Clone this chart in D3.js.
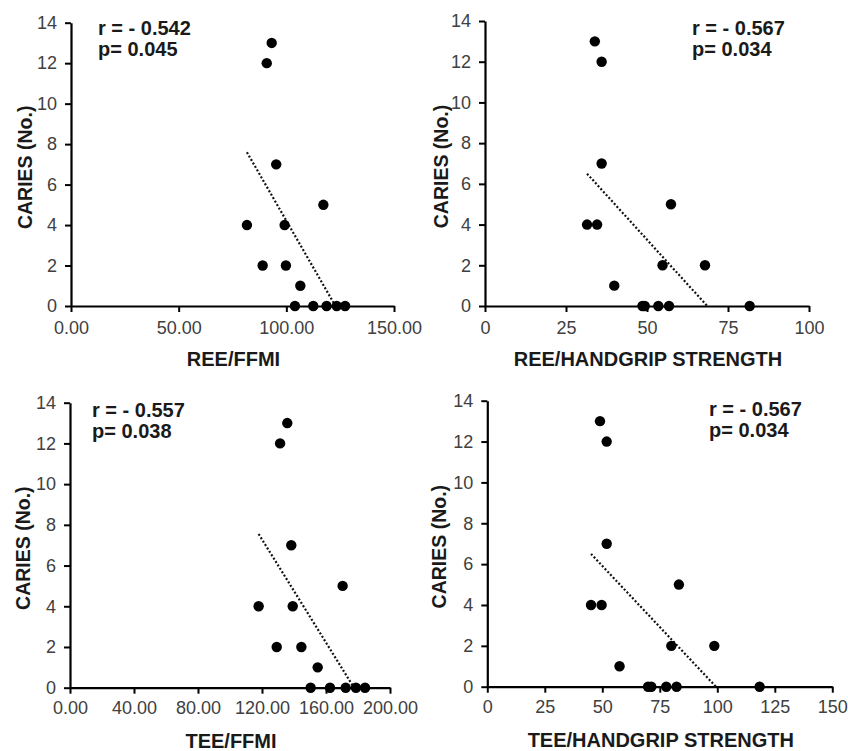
<!DOCTYPE html>
<html>
<head>
<meta charset="utf-8">
<script src="https://cdn.jsdelivr.net/npm/d3@7"></script>
<style>
  body { margin: 0; background: #fff; }
  svg { display: block; font-family: "Liberation Sans", Arial, sans-serif; }
  .tick text { fill: #404040; font-size: 18px; }
  .domain { stroke: #000; stroke-width: 2.2; }
  .tick line { stroke: #000; stroke-width: 2; }
</style>
</head>
<body>
<svg></svg>
<script>
// caries count per subject, same order in every panel
const caries = [13, 12, 7, 5, 4, 4, 2, 2, 1, 0, 0, 0, 0, 0];

const reeFfmi     = [93.2, 90.9, 95.3, 117.2, 81.7, 99.2, 89.0, 99.8, 106.5, 104.0, 112.5, 118.7, 123.4, 127.3];
const reeHandgrip = [33.9, 36.0, 36.0, 57.4, 31.5, 34.6, 54.8, 67.9, 39.9, 48.6, 49.3, 53.5, 56.8, 81.7];
const teeFfmi     = [135.8, 131.3, 138.3, 170.4, 117.9, 139.2, 129.2, 144.6, 154.8, 150.4, 162.5, 172.3, 178.7, 184.4];
const teeHandgrip = [49.0, 51.9, 51.9, 83.3, 45.1, 49.7, 80.0, 98.7, 57.5, 69.9, 71.3, 77.8, 82.3, 118.4];

// trend line end points [x, y]
const trendReeFfmi     = [[81.7, 7.6], [122.8, 0]];
const trendReeHandgrip = [[31.5, 6.5], [68.6, 0]];
const trendTeeFfmi     = [[117.9, 7.55], [177.5, 0]];
const trendTeeHandgrip = [[45.1, 6.5], [99.4, 0]];

const yTicks = [0, 2, 4, 6, 8, 10, 12, 14];
const xTicksReeFfmi = [0, 50, 100, 150];
const xTicksReeHandgrip = [0, 25, 50, 75, 100];
const xTicksTeeFfmi = [0, 40, 80, 120, 160, 200];
const xTicksTeeHandgrip = [0, 25, 50, 75, 100, 125, 150];

const xTitles = ['REE/FFMI', 'REE/HANDGRIP STRENGTH', 'TEE/FFMI', 'TEE/HANDGRIP STRENGTH'];
const stats = [['r = - 0.542', 'p= 0.045'], ['r = - 0.567', 'p= 0.034'],
               ['r = - 0.557', 'p= 0.038'], ['r = - 0.567', 'p= 0.034']];

let width = 848, height = 751;

let svg = d3.select('svg')
            .attr('width', width)
            .attr('height', height);

svg.append('rect')
   .attr('width', width)
   .attr('height', height)
   .attr('fill', '#fff');

// pixel frame of each plot area
let panels = [
  {xs: reeFfmi, trend: trendReeFfmi, ticks: xTicksReeFfmi, fmt: d3.format('.2f'), pad: 9,
   left: 71, right: 394, top: 22.7, bottom: 306, titleX: 32, statX: 98, statY: 35},
  {xs: reeHandgrip, trend: trendReeHandgrip, ticks: xTicksReeHandgrip, fmt: d3.format('d'), pad: 9,
   left: 485, right: 809, top: 21, bottom: 306, titleX: 448, statX: 692, statY: 35},
  {xs: teeFfmi, trend: trendTeeFfmi, ticks: xTicksTeeFfmi, fmt: d3.format('.2f'), pad: 8,
   left: 70, right: 390, top: 402.7, bottom: 687.7, titleX: 30, statX: 92, statY: 417},
  {xs: teeHandgrip, trend: trendTeeHandgrip, ticks: xTicksTeeHandgrip, fmt: d3.format('d'), pad: 8,
   left: 487.3, right: 832.3, top: 400.7, bottom: 686.7, titleX: 446, statX: 709, statY: 416}
];

panels.forEach((p, i) => {
  let x = d3.scaleLinear()
            .domain(d3.extent(p.ticks))
            .range([p.left, p.right]);
  let y = d3.scaleLinear()
            .domain([0, 14])
            .range([p.bottom, p.top]);

  let g = svg.append('g');

  g.append('g')
   .attr('transform', `translate(${p.left},0)`)
   .call(d3.axisLeft(y).tickValues(yTicks).tickSize(6).tickSizeOuter(0).tickPadding(8));

  g.append('g')
   .attr('transform', `translate(0,${p.bottom})`)
   .call(d3.axisBottom(x).tickValues(p.ticks).tickFormat(p.fmt).tickSize(6).tickSizeOuter(0).tickPadding(p.pad));

  // dotted linear trend
  g.append('line')
   .attr('x1', x(p.trend[0][0]))
   .attr('y1', y(p.trend[0][1]))
   .attr('x2', x(p.trend[1][0]))
   .attr('y2', y(p.trend[1][1]))
   .attr('stroke', '#111')
   .attr('stroke-width', 2.2)
   .attr('stroke-dasharray', '2,2');

  g.selectAll('circle')
   .data(p.xs.map((v, k) => ({x: v, y: caries[k]})))
   .enter()
   .append('circle')
   .attr('cx', d => x(d.x))
   .attr('cy', d => y(d.y))
   .attr('r', 5.2)
   .attr('fill', '#000');

  g.append('text')
   .attr('transform', `translate(${p.titleX},${(p.top + p.bottom) / 2 + 3}) rotate(-90)`)
   .attr('text-anchor', 'middle')
   .attr('font-size', 19.5)
   .attr('font-weight', 'bold')
   .attr('fill', '#1a1a1a')
   .text('CARIES (No.)');

  g.append('text')
   .attr('x', (p.left + p.right) / 2 + 1)
   .attr('y', p.bottom + 60)
   .attr('text-anchor', 'middle')
   .attr('font-size', 20)
   .attr('font-weight', 'bold')
   .attr('fill', '#1a1a1a')
   .text(xTitles[i]);

  let st = g.append('text')
            .attr('font-size', 20)
            .attr('font-weight', 'bold')
            .attr('fill', '#1a1a1a');
  st.append('tspan')
    .attr('x', p.statX)
    .attr('y', p.statY)
    .text(stats[i][0]);
  st.append('tspan')
    .attr('x', p.statX)
    .attr('y', p.statY + 21)
    .text(stats[i][1]);
});
</script>
</body>
</html>
